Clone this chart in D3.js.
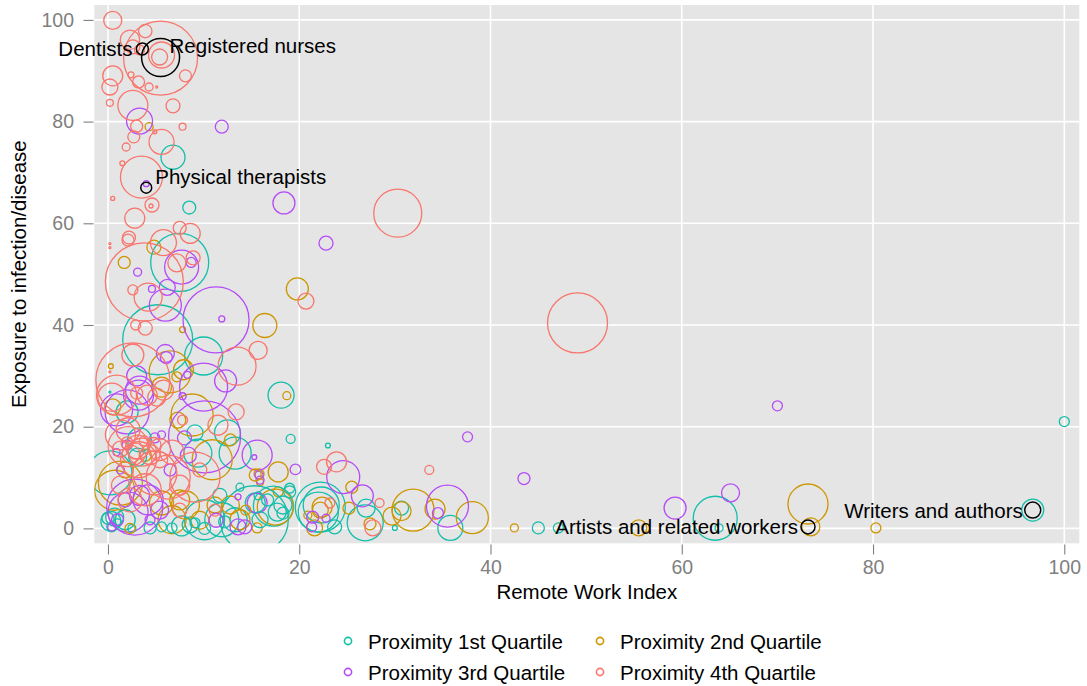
<!DOCTYPE html>
<html><head><meta charset="utf-8">
<script src="https://cdn.jsdelivr.net/npm/d3@7"></script>
<style>
body{margin:0;background:#fff;}
svg{display:block;font-family:"Liberation Sans",Arial,Helvetica,sans-serif;}
</style>
</head><body>
<svg id="chart" width="1087" height="686"></svg>
<script>
// ---------- data ----------
const groups = ["Proximity 1st Quartile","Proximity 2nd Quartile","Proximity 3rd Quartile","Proximity 4th Quartile"];
const groupColors = ["#13BFAA","#CD9600","#B54CF7","#F8766D"];
const xTicks = [0,20,40,60,80,100];
const yTicks = [0,20,40,60,80,100];
const xTitle = "Remote Work Index";
const yTitle = "Exposure to infection/disease";

// [Remote Work Index, Exposure, Employment]
const q1 = [
 [6.8,73.0,144],[8.5,63.1,42],[7.5,52.3,841],[5.2,37.1,1225],[10.0,33.9,361],[18.1,26.2,169],
 [2.0,22.9,121],[0.2,26.8,1],[19.1,17.6,20],[23.0,16.3,6],[0.2,10.9,484],[9.1,18.8,64],
 [9.4,14.8,196],[12.5,18.8,169],[13.3,14.8,256],[22.2,4.2,625],[22.0,3.2,400],[22.3,4.6,324],
 [23.7,0.3,49],[17.3,4.4,400],[17.7,3.2,81],[18.3,3.0,36],[19.0,7.2,36],[15.4,5.0,100],
 [15.3,1.7,1156],[27.0,4.0,81],[26.9,1.1,324],[30.7,4.0,49],[30.0,0.1,6],[35.8,0.1,156],
 [45.0,0.1,36],[47.1,0.1,25],[63.5,2.0,484],[63.9,0.1,16],[96.7,3.6,121],[100,21.0,25],
 [0,2.0,36],[0.7,2.2,81],[0.4,0.3,25],[1.8,1.7,100],[10.1,1.7,400],[11.9,1.7,289],
 [13.3,1.7,144],[8.6,0.7,64],[4.4,0.1,36],[6.7,0.1,25],[15.9,1.7,64],[3.3,17.4,144],[3.1,14.0,81],
 [0.3,1.4,100],[1.0,1.1,16],[2.5,0.0,16],[5.6,0.3,25],[7.7,0.5,100],[9.1,1.1,25],[10.1,0.0,36],
 [12.2,1.3,36],[15.7,6.4,16],[16.7,5.6,36],[18.3,4.6,81],[19.0,7.9,25],[11.7,6.5,49],[13.8,8.1,16]
];
const q2 = [
 [4.3,79.0,16],[4.8,55.3,49],[1.7,52.3,36],[19.8,47.1,121],[16.4,39.9,144],[7.8,39.1,9],
 [6.5,30.8,441],[0.3,31.9,6],[7.2,29.8,25],[18.7,26.1,16],[0.5,23.9,64],[8.8,22.3,441],
 [7.3,21.3,64],[7.9,31.2,100],[5.6,27.8,100],[17.8,11.1,100],[15.8,10.7,25],[15.9,9.1,12],
 [17.8,7.2,25],[17.5,4.2,324],[15.6,0.1,25],[22.4,4.2,100],[22.2,3.6,64],[21.6,0.1,64],
 [20.9,2.6,16],[25.5,8.1,36],[25.2,4.0,36],[27.4,0.9,36],[29.7,2.4,81],[30.7,3.4,90],
 [31.9,3.6,441],[34.2,3.8,100],[38.1,2.1,256],[42.5,0.1,16],[55.5,0.1,64],[56.2,0.1,16],
 [73.2,4.8,400],[73.5,0.3,81],[80.3,0.1,25],[1.3,8.9,484],[6.7,1.7,196],[5.6,5.0,144],
 [10.9,13.5,400],[1.8,11.5,64],[3.9,14.4,36],[7.5,5.6,100],[11.2,4.6,64],[13.8,1.7,100],
 [0.7,7.5,400],[12.8,17.4,36],
 [8.1,4.6,196],[9.6,1.6,81],[12.8,4.6,81],[2.3,0.0,25],[14.4,3.6,25],[15.4,10.5,36]
];
const q3 = [
 [3.3,80.1,169],[11.9,79.0,42],[4.0,67.8,9],[18.4,64.0,121],[22.8,56.1,49],[7.7,51.4,289],
 [8.7,52.3,25],[3.1,50.4,16],[4.6,47.1,12],[6.2,47.4,64],[6.0,43.9,256],[11.3,41.0,1089],
 [11.9,41.2,9],[6.0,34.4,81],[6.1,33.6,36],[3.0,30.0,100],[10.0,27.8,576],[12.3,29.0,121],
 [8.3,30.2,12],[7.8,26.0,12],[3.2,26.2,225],[0.9,23.3,256],[2.0,22.9,484],[3.3,27.2,196],
 [10.1,18.0,1296],[8.0,17.8,49],[4.9,17.8,25],[5.6,18.4,16],[0.9,15.0,12],[2.0,16.4,25],
 [15.6,14.4,225],[15.3,14.0,6],[15.8,10.5,16],[15.9,9.5,16],[19.6,11.6,28],[24.6,10.1,272],
 [26.6,6.4,121],[21.4,2.2,36],[21.3,0.3,25],[22.8,2.0,16],[15.6,5.0,100],[35.5,4.4,441],
 [34.5,3.0,30],[37.6,18.0,25],[43.5,9.8,36],[59.3,4.0,121],[65.1,7.0,81],[70.0,24.1,25],
 [2.8,4.2,784],[2.1,3.2,400],[4.2,5.6,225],[1.0,1.7,36],[3.3,6.5,100],[1.8,5.6,49],
 [5.4,3.6,81],[4.4,1.7,25],[0.4,0.3,16],[11.3,1.6,49],[14.3,0.3,49],
 [13.6,0.3,64],[13.6,6.2,9],[6.5,11.5,36],[8.4,14.4,64],[1.3,11.5,16]
];
const q4 = [
 [0.5,99.9,81],[5.5,92.5,1369],[3.9,97.8,45],[2.3,96.1,94],[2.6,94.7,49],[3.3,94.1,25],
 [5.4,92.7,64],[5.6,93.1,169],[8.1,89.0,36],[0.5,89.0,100],[0.2,86.8,64],[2.4,89.2,9],
 [3.2,87.8,36],[4.3,86.8,16],[5.1,86.8,1],[0.2,83.7,12],[2.6,83.2,225],[6.8,83.1,49],
 [3.0,79.1,36],[4.9,78.0,4],[2.7,77.0,36],[5.6,76.0,156],[7.8,79.0,12],[1.9,75.0,16],
 [1.5,71.8,6],[3.5,69.1,441],[0.5,64.9,4],[4.6,63.6,49],[4.5,63.4,4],[2.8,61.0,100],
 [2.2,57.2,42],[7.5,59.1,42],[8.6,58.0,100],[5.8,56.2,169],[0.2,56.0,1],[0.2,55.2,1],
 [2.1,56.7,36],[7.2,52.2,81],[8.9,53.2,49],[3.8,48.5,1521],[2.6,46.9,25],[4.2,45.5,196],
 [20.7,44.7,64],[30.3,62.0,576],[49.1,40.4,900],[2.9,40.0,25],[3.9,39.4,49],[13.5,31.9,361],
 [15.7,35.0,81],[2.6,29.2,1369],[2.6,34.1,121],[0.2,30.8,1],[0.4,25.8,196],[3.0,26.6,36],
 [5.1,25.8,81],[5.8,27.2,100],[13.4,22.9,64],[7.8,21.3,25],[0.9,26.2,400],[4.1,26.2,100],
 [2.1,19.4,144],[1.3,18.4,225],[3.1,16.0,144],[2.9,15.2,64],[3.6,15.0,196],[4.4,14.5,100],
 [2.4,14.6,81],[3.2,13.5,324],[4.8,16.5,49],[2.0,16.8,36],[3.8,17.2,25],[5.4,15.5,121],
 [1.3,15.6,64],[11.5,20.3,100],[4.9,10.9,484],[6.3,10.1,484],[9.1,10.1,625],[3.9,7.6,256],
 [22.6,12.1,56],[23.9,13.1,100],[28.4,5.0,20],[27.7,0.1,64],[23.2,5.0,25],[33.6,11.5,20],
 [2.3,5.6,144],[5.4,13.5,64],[7.5,8.5,100],[1.3,8.5,81],[9.6,11.5,49],
 [2.1,16.1,400],[6.7,15.0,144],[11.2,3.6,36],[7.5,3.6,49]
];

// highlighted occupations
const highlightNames = ["Dentists","Registered nurses","Physical therapists","Artists and related workers","Writers and authors"];
const highlightX = [3.6,5.5,4.0,73.2,96.7];
const highlightY = [94.3,92.6,67.0,0.3,3.6];
const highlightEmp = [36,361,30,49,64];
// label placement relative to the point: [dx, dy, anchor]
const labelPlace = [[-10,0,"end"],[9,-12,"start"],[9,-11,"start"],[-10,0,"end"],[-10,0,"end"]];

// ---------- chart ----------
const svg = d3.select("#chart");
const panel = {left:94.3, top:5, right:1079.3, bottom:543.3};
const x = d3.scaleLinear().domain([-1.43,101.57]).range([panel.left,panel.right]);
const y = d3.scaleLinear().domain([-2.93,102.93]).range([panel.bottom,panel.top]);
const r = d3.scaleSqrt().domain([0,1600]).range([0,40]);
const color = d3.scaleOrdinal().domain(groups).range(groupColors);

svg.append("rect").attr("width",1087).attr("height",686).attr("fill","#fff");
svg.append("rect").attr("x",panel.left).attr("y",panel.top)
  .attr("width",panel.right-panel.left).attr("height",panel.bottom-panel.top).attr("fill","#E5E5E5");

svg.append("defs").append("clipPath").attr("id","pclip").append("rect")
  .attr("x",panel.left).attr("y",panel.top)
  .attr("width",panel.right-panel.left).attr("height",panel.bottom-panel.top);

const grid = svg.append("g");
grid.selectAll(".gx").data(xTicks).join("line")
  .attr("x1",d=>x(d)).attr("x2",d=>x(d)).attr("y1",panel.top).attr("y2",panel.bottom)
  .attr("stroke","#fff").attr("stroke-width",1.6);
grid.selectAll(".gy").data(yTicks).join("line")
  .attr("y1",d=>y(d)).attr("y2",d=>y(d)).attr("x1",panel.left).attr("x2",panel.right)
  .attr("stroke","#fff").attr("stroke-width",1.6);

// merge points interleaved
const sets = [q1,q2,q3,q4];
const pts = [];
const maxLen = d3.max(sets, s=>s.length);
for (let i=0;i<maxLen;i++){
  sets.forEach((s,g)=>{ if(i<s.length) pts.push({x:s[i][0],y:s[i][1],emp:s[i][2],g:groups[g]}); });
}

const plot = svg.append("g").attr("clip-path","url(#pclip)");
plot.selectAll("circle.pt").data(pts).join("circle").attr("class","pt")
  .attr("cx",d=>x(d.x)).attr("cy",d=>y(d.y)).attr("r",d=>Math.max(0.8,r(d.emp)))
  .attr("fill","none").attr("stroke",d=>color(d.g)).attr("stroke-width",1.3);

const hl = highlightNames.map((n,i)=>({name:n,x:highlightX[i],y:highlightY[i],emp:highlightEmp[i],p:labelPlace[i]}));
plot.selectAll("circle.hl").data(hl).join("circle").attr("class","hl")
  .attr("cx",d=>x(d.x)).attr("cy",d=>y(d.y)).attr("r",d=>r(d.emp))
  .attr("fill","none").attr("stroke","#000").attr("stroke-width",1.5);

svg.append("g").selectAll("text").data(hl).join("text")
  .attr("x",d=>x(d.x)+d.p[0]).attr("y",d=>y(d.y)+d.p[1])
  .attr("text-anchor",d=>d.p[2]).attr("dominant-baseline","central")
  .attr("font-size",20.5).attr("fill","#000").text(d=>d.name);

// axes
const yAxis = svg.append("g").attr("transform",`translate(${panel.left-0.8},0)`)
  .call(d3.axisLeft(y).tickValues(yTicks).tickSize(10).tickPadding(9.5));
const xAxis = svg.append("g").attr("transform",`translate(0,${panel.bottom+1.2})`)
  .call(d3.axisBottom(x).tickValues(xTicks).tickSize(10).tickPadding(5.5));
[xAxis,yAxis].forEach(a=>{
  a.select(".domain").remove();
  a.selectAll(".tick line").attr("stroke","#7F7F7F").attr("stroke-width",1.1);
  a.selectAll(".tick text").attr("fill","#7F7F7F").attr("font-size",19.5)
    .attr("font-family","'Liberation Sans',Arial,sans-serif");
});

svg.append("text").attr("x",(panel.left+panel.right)/2).attr("y",599)
  .attr("text-anchor","middle").attr("font-size",20.5).attr("fill","#000").text(xTitle);
svg.append("text").attr("transform",`translate(26,${(panel.top+panel.bottom)/2}) rotate(-90)`)
  .attr("text-anchor","middle").attr("font-size",20.5).attr("fill","#000").text(yTitle);

// legend
const legX = [348,600], legTX = [368,620], legY = [641,672];
const leg = svg.append("g").selectAll("g").data(groups).join("g")
  .attr("transform",(d,i)=>`translate(0,${legY[Math.floor(i/2)]})`);
leg.append("circle").attr("cx",(d,i)=>legX[i%2]).attr("cy",0).attr("r",3.6)
  .attr("fill","none").attr("stroke",d=>color(d)).attr("stroke-width",1.6);
leg.append("text").attr("x",(d,i)=>legTX[i%2]).attr("y",0).attr("dominant-baseline","central")
  .attr("font-size",20.5).attr("fill","#000").text(d=>d);
</script>
</body></html>
